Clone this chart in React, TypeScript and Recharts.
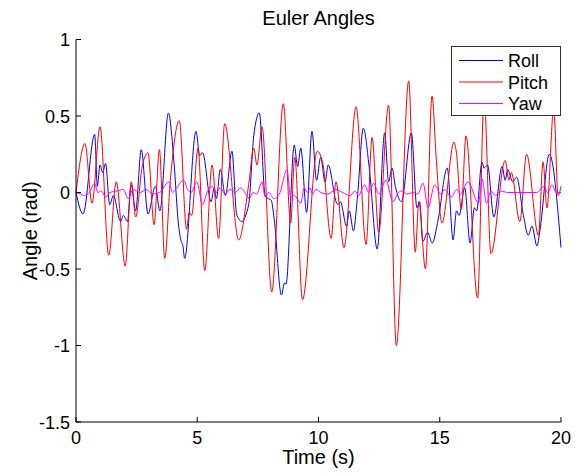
import { LineChart, Line, XAxis, YAxis } from "recharts";

// [time (s), angle (rad)]
const rollPoints: [number, number][] = [
  [0, 0], [0.29, -0.14], [0.77, 0.38], [0.88, 0.04], [0.99, 0.18], [1.1, 0.13],
  [1.22, 0.19], [1.39, -0.08], [1.54, -0.02], [1.84, -0.19], [1.95, -0.15], [2.12, -0.19],
  [2.28, 0.05], [2.46, -0.12], [2.69, 0.28], [2.97, -0.14], [3.27, 0.04], [3.46, -0.12],
  [3.81, 0.52], [4.04, 0.2], [4.22, -0.2], [4.34, -0.32], [4.4, -0.34], [4.48, -0.43],
  [4.95, 0.4], [5.1, 0.24], [5.22, 0.26], [5.57, -0.06], [5.7, 0.03], [5.79, -0.04],
  [5.95, 0.15], [6.16, -0.02], [6.43, 0.27], [6.62, -0.14], [6.71, -0.17], [6.82, -0.19],
  [7.12, -0.08], [7.33, 0.37], [7.56, 0.52], [7.8, -0.02], [7.93, -0.04], [8.05, -0.05],
  [8.17, -0.17], [8.47, -0.67], [8.6, -0.59], [8.66, -0.6], [9.0, 0.31], [9.14, 0.17],
  [9.27, 0.29], [9.51, -0.13], [9.73, 0.4], [9.92, 0.08], [10.09, 0.23], [10.27, 0.07],
  [10.4, 0.18], [10.75, -0.07], [10.82, -0.08], [10.9, -0.06], [11.16, -0.22], [11.27, -0.12],
  [11.44, -0.25], [11.6, -0.04], [11.85, 0.42], [12.1, 0.15], [12.42, -0.37], [12.73, 0.39],
  [12.89, 0.07], [13.03, 0.16], [13.17, 0.04], [13.42, -0.06], [13.83, 0.39], [14.06, -0.1],
  [14.17, -0.06], [14.3, -0.32], [14.5, -0.26], [14.69, -0.33], [14.93, -0.18], [15.31, 0.16],
  [15.55, -0.31], [15.69, -0.12], [15.8, -0.15], [16.03, 0.03], [16.25, -0.33], [16.43, -0.1],
  [16.52, -0.12], [16.74, 0.2], [16.83, 0.16], [16.97, 0.18], [17.23, -0.16], [17.57, 0.17],
  [17.7, 0.08], [17.8, 0.15], [18.01, 0.07], [18.17, 0.1], [18.45, -0.15], [18.65, -0.28],
  [18.8, -0.22], [19.01, -0.35], [19.13, -0.25], [19.52, 0.25], [20, -0.36],
];

const pitchPoints: [number, number][] = [
  [0, 0], [0.37, 0.32], [0.66, -0.07], [0.99, 0.43], [1.35, -0.41], [1.66, 0.07],
  [2.03, -0.48], [2.28, 0.07], [2.46, -0.16], [2.73, 0.17], [2.97, 0.26], [3.22, -0.21],
  [3.44, 0.28], [3.66, -0.43], [3.89, 0.08], [4.26, 0.47], [4.56, -0.24], [4.67, -0.13],
  [4.77, -0.15], [5.03, 0.29], [5.31, -0.51], [5.61, 0.18], [5.88, -0.3], [6.13, 0.45],
  [6.71, -0.31], [7.12, 0.05], [7.33, 0.29], [7.46, 0.18], [7.67, 0.43], [8.07, -0.65],
  [8.55, 0.58], [8.85, -0.2], [9.02, 0.23], [9.34, -0.7], [9.95, 0.27], [10.18, 0.19],
  [10.52, -0.3], [10.72, 0.07], [11.05, -0.36], [11.55, 0.56], [11.96, -0.34], [12.21, 0.36],
  [12.48, -0.26], [12.89, 0.57], [13.21, -1.0], [13.72, 0.73], [13.99, -0.39], [14.14, -0.06],
  [14.41, -0.5], [14.68, 0.63], [14.86, 0.21], [15.09, -0.2], [15.59, 0.33], [15.68, 0.27],
  [15.89, -0.11], [16.08, 0.37], [16.56, -0.69], [16.83, 0.62], [17.11, -0.4], [17.7, 0.21],
  [17.85, 0.08], [17.95, 0.13], [18.3, -0.19], [18.58, 0.25], [19.07, -0.28], [19.26, 0.2],
  [19.42, -0.1], [19.7, 0.55], [19.88, -0.02], [20, 0.04],
];

const yawPoints: [number, number][] = [
  [0, 0], [0.2, -0.01], [0.35, -0.02], [0.55, 0], [0.77, 0.06], [0.9, 0], [1.05, 0.01],
  [1.22, -0.03], [1.4, 0], [1.7, 0.01], [1.95, 0.02], [2.15, -0.04], [2.35, 0.02], [2.65, 0],
  [2.9, 0.02], [3.15, -0.01], [3.45, 0], [3.83, 0.07], [3.98, 0], [4.1, 0.02], [4.44, 0.08],
  [4.6, 0.02], [4.75, 0], [4.98, 0.07], [5.22, -0.08], [5.4, 0], [5.6, 0.04], [5.78, 0],
  [5.95, 0.03], [6.15, -0.01], [6.35, 0.02], [6.55, 0], [6.8, 0.03], [7.0, -0.01],
  [7.15, -0.04], [7.3, 0], [7.45, -0.01], [7.67, 0.07], [7.8, -0.03], [7.95, 0],
  [8.17, -0.04], [8.41, 0], [8.7, 0.15], [8.85, -0.03], [9.0, -0.02], [9.27, -0.07],
  [9.41, 0.03], [9.55, 0], [9.65, 0.03], [9.75, -0.01], [9.9, 0.02], [10.1, 0],
  [10.4, -0.01], [10.7, 0.02], [11.0, 0], [11.3, -0.02], [11.5, 0.01], [11.65, -0.02],
  [11.9, 0.05], [12.07, 0], [12.28, 0.06], [12.49, -0.01], [12.78, 0.08], [13.07, -0.06],
  [13.3, 0], [13.45, 0.01], [13.65, -0.01], [13.9, 0], [14.1, -0.01], [14.31, 0.06],
  [14.52, -0.1], [14.79, 0.05], [15.04, -0.01], [15.2, 0.02], [15.47, -0.03], [15.7, 0.02],
  [15.85, -0.01], [16.0, 0.03], [16.16, 0.07], [16.6, -0.07], [16.74, 0.09], [16.93, -0.07],
  [17.11, 0.01], [17.3, -0.02], [17.5, 0.01], [17.8, 0], [18.2, 0], [18.6, 0], [19.0, 0],
  [19.3, 0.04], [19.45, 0], [19.63, 0.05], [19.8, 0], [20, 0],
];

const timeTicks = [0, 5, 10, 15, 20];
const angleTicks = [-1.5, -1, -0.5, 0, 0.5, 1];

const seriesNames = ["Roll", "Pitch", "Yaw"];
const seriesColors = ["#0000ff", "#ff0000", "#ff00ff"];

const FONT = "'Liberation Sans', Arial, sans-serif";

const toRows = (pts: [number, number][]) => pts.map(([t, v]) => ({ t, v }));

// MATLAB style ticks: short marks pointing into the plot
function TimeTick({ x, y, payload }: any) {
  return (
    <g>
      <line x1={x} x2={x} y1={y} y2={y - 5} stroke="#000" />
      <text x={x} y={y + 22} textAnchor="middle" fontSize={18} fontFamily={FONT} fill="#000">
        {payload.value}
      </text>
    </g>
  );
}

function AngleTick({ x, y, payload }: any) {
  return (
    <g>
      <line x1={x} x2={x + 5} y1={y} y2={y} stroke="#000" />
      <text x={x - 6} y={y + 6.5} textAnchor="end" fontSize={18} fontFamily={FONT} fill="#000">
        {payload.value}
      </text>
    </g>
  );
}

function AngleLabel({ viewBox }: any) {
  const cx = viewBox.x + 14;
  const cy = viewBox.y + viewBox.height / 2;
  return (
    <text
      x={cx}
      y={cy}
      transform={`rotate(-90 ${cx} ${cy})`}
      textAnchor="middle"
      dominantBaseline="central"
      fontSize={20}
      fontFamily={FONT}
      fill="#000"
    >
      Angle (rad)
    </text>
  );
}

export default function App() {
  const series = [rollPoints, pitchPoints, yawPoints].map(toRows);

  return (
    <div style={{ position: "absolute", left: 0, top: 0, width: 579, height: 473, background: "#fff" }}>
      <div
        style={{
          position: "absolute",
          left: 0,
          top: 8,
          width: 637,
          textAlign: "center",
          fontFamily: FONT,
          fontSize: 20,
          lineHeight: "20px",
          color: "#000",
        }}
      >
        Euler Angles
      </div>
      <LineChart width={579} height={473} margin={{ top: 39.5, right: 18, bottom: 21, left: 16 }}>
        <XAxis
          type="number"
          dataKey="t"
          domain={[0, 20]}
          ticks={timeTicks}
          tick={<TimeTick />}
          tickLine={false}
          tickSize={0}
          tickMargin={0}
          height={30}
          axisLine={{ stroke: "#000" }}
          label={{ value: "Time (s)", position: "bottom", offset: -2, fontSize: 20, fontFamily: FONT, fill: "#000" }}
        />
        <YAxis
          type="number"
          dataKey="v"
          domain={[-1.5, 1]}
          ticks={angleTicks}
          tick={<AngleTick />}
          tickLine={false}
          tickSize={0}
          tickMargin={0}
          width={60}
          axisLine={{ stroke: "#000" }}
          label={<AngleLabel />}
        />
        {series.map((rows, i) => (
          <Line
            key={seriesNames[i]}
            data={rows}
            dataKey="v"
            type="monotone"
            stroke={seriesColors[i]}
            strokeWidth={1}
            dot={false}
            activeDot={false}
            isAnimationActive={false}
          />
        ))}
      </LineChart>
      {/* legend box, drawn over the plot like MATLAB does */}
      <div
        style={{
          position: "absolute",
          left: 451,
          top: 46,
          width: 110,
          height: 70,
          background: "#fff",
          border: "1px solid #333",
          boxSizing: "border-box",
        }}
      >
        <svg width={108} height={68}>
          {seriesNames.map((name, i) => (
            <g key={name}>
              <line x1={7} x2={51} y1={13.5 + i * 21.5} y2={13.5 + i * 21.5} stroke={seriesColors[i]} strokeWidth={1} />
              <text x={56} y={13.5 + i * 21.5 + 6.5} fontSize={18} fontFamily={FONT} fill="#000">
                {name}
              </text>
            </g>
          ))}
        </svg>
      </div>
    </div>
  );
}
